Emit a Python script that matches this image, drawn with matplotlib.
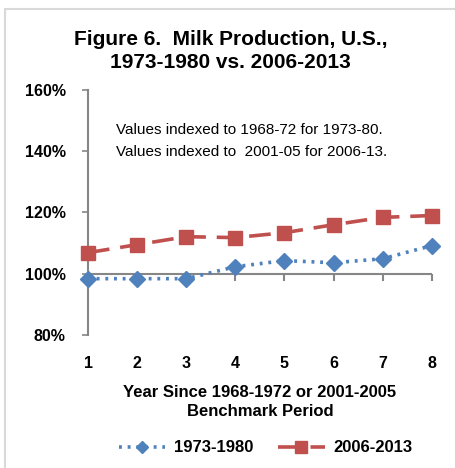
import matplotlib
matplotlib.use("Agg")
import matplotlib.pyplot as plt
from matplotlib.patches import Rectangle

plt.rcParams["font.family"] = ["Liberation Sans", "DejaVu Sans"]

years = [1, 2, 3, 4, 5, 6, 7, 8]
milk_7380 = [98.4, 98.4, 98.4, 102.3, 104.3, 103.6, 104.9, 109.2]
milk_0613 = [106.9, 109.5, 112.1, 111.8, 113.4, 116.0, 118.4, 119.0]
yticks = [80, 100, 120, 140, 160]
BLUE, RED, AXC = "#4F81BD", "#C0504D", "#868686"

fig = plt.figure(figsize=(4.56, 4.68), dpi=100)
# chart-area frame (light grey, clipped at right/bottom like the screenshot)
fig.patches.append(Rectangle((5 / 456, -0.05), 1.0, 1.05 - 9 / 468, transform=fig.transFigure,
                             fill=False, edgecolor="#D9D9D9", lw=1.5))
ax = fig.add_axes([0.193, 0.284, 0.754, 0.524])

ax.plot(years, milk_7380, color=BLUE, lw=2.6, ls=(0, (0.8, 1.6)), marker="D",
        ms=8, label="1973-1980", clip_on=False, zorder=4)
ax.plot(years, milk_0613, color=RED, lw=2.6, ls=(0, (6, 3)), marker="s",
        ms=10, label="2006-2013", clip_on=False, zorder=4)

ax.set_xlim(1, 8)
ax.set_ylim(80, 160)
ax.set_yticks(yticks)
ax.set_yticklabels([f"{v}%" for v in yticks], fontweight="bold", fontsize=11.5)
ax.set_xticks(years)
ax.set_xticklabels([str(v) for v in years], fontweight="bold", fontsize=11.5)
ax.tick_params(axis="x", length=0, pad=15)
ax.tick_params(axis="y", length=4, color=AXC, width=1.2, pad=12)
for s in ("top", "right", "bottom"):
    ax.spines[s].set_visible(False)
ax.spines["left"].set_color(AXC)
ax.spines["left"].set_linewidth(1.5)

# horizontal axis crosses at 100%, ticks pointing down
ax.axhline(100, color=AXC, lw=1.5, zorder=2)
ax.plot(years, [100] * len(years), ls="none", marker=3, ms=5, mew=1.5, color=AXC,
        clip_on=False, zorder=2)

ax.text(0.08, 0.835, "Values indexed to 1968-72 for 1973-80.", transform=ax.transAxes,
        fontsize=11, va="center")
ax.text(0.08, 0.745, "Values indexed to  2001-05 for 2006-13.", transform=ax.transAxes,
        fontsize=11, va="center")

fig.text(0.505, 0.891, "Figure 6.  Milk Production, U.S.,\n1973-1980 vs. 2006-2013",
         ha="center", va="center", fontsize=15, fontweight="bold", linespacing=1.25)
ax.set_xlabel("Year Since 1968-1972 or 2001-2005\nBenchmark Period", fontweight="bold",
              fontsize=12, labelpad=10, linespacing=1.35)

fig.legend(loc="center", bbox_to_anchor=(0.582, 0.043), ncol=2, frameon=False,
           handlelength=2.8, columnspacing=1.5, handletextpad=0.5, markerscale=0.8,
           prop={"weight": "bold", "size": 12})

fig.savefig("out.png", dpi=100)
